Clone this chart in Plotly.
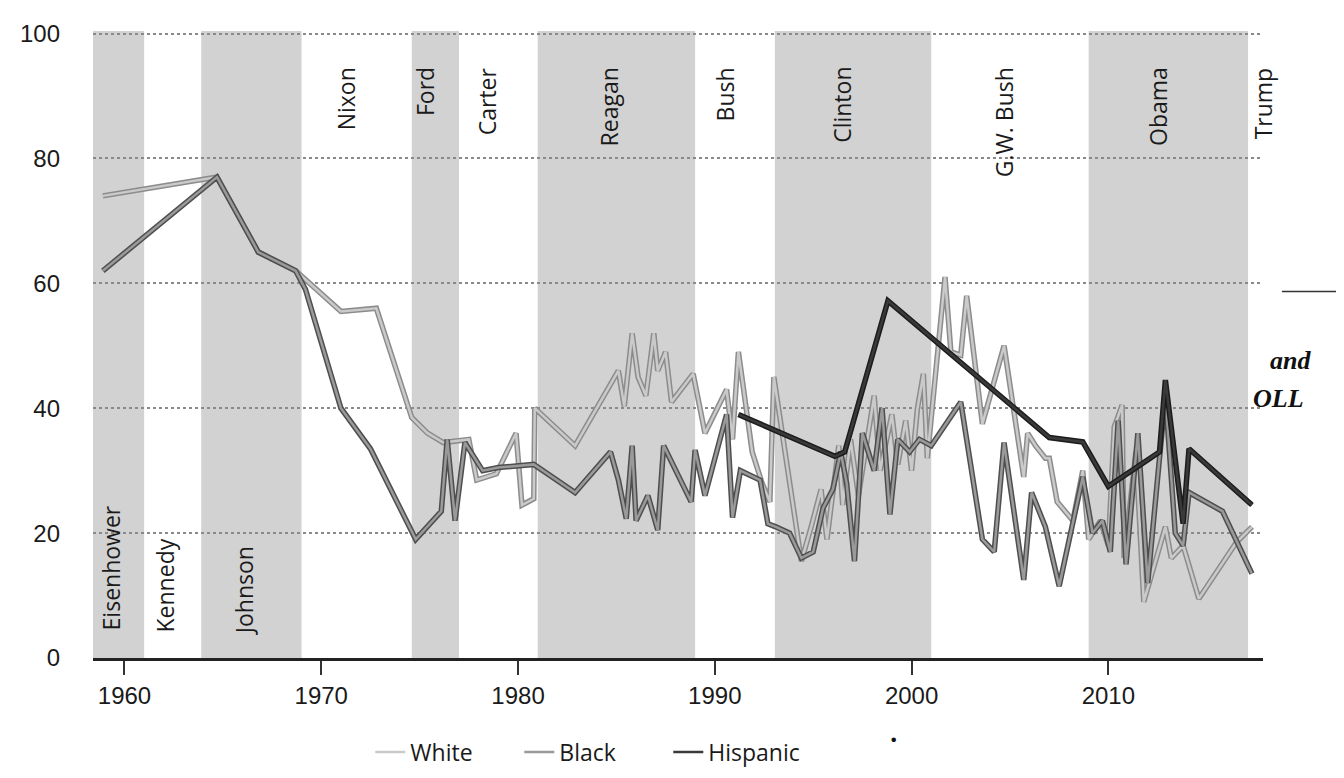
import plotly.graph_objects as go

# ---------------- data ----------------
white_years = [1958.9, 1964.7, 1966.8, 1968.7, 1971.0, 1972.8, 1974.6, 1975.4, 1976.2, 1977.5,
               1977.9, 1978.9, 1979.9, 1980.2, 1980.8, 1980.85, 1982.9, 1985.1, 1985.4, 1985.8,
               1986.1, 1986.5, 1986.9, 1987.1, 1987.5, 1987.8, 1988.9, 1989.5, 1990.6, 1990.9,
               1991.2, 1991.9, 1992.4, 1992.8, 1993.0, 1994.4, 1994.9, 1995.4, 1995.7, 1996.3,
               1996.5, 1996.9, 1997.3, 1998.1, 1998.4, 1999.0, 1999.3, 1999.7, 2000.0, 2000.3,
               2000.6, 2000.8, 2001.7, 2002.0, 2002.5, 2002.8, 2003.6, 2004.7, 2005.7, 2005.9,
               2006.3, 2006.8, 2007.0, 2007.4, 2008.2, 2008.7, 2009.0, 2009.6, 2010.0, 2010.3,
               2010.7, 2010.8, 2011.4, 2011.8, 2012.9, 2013.2, 2013.8, 2014.6, 2016.5, 2017.3]
white_vals = [74, 77, 65, 62, 55.5, 56, 38.5, 36, 34.5, 35,
              28.5, 29.5, 36, 24.5, 25.5, 40, 34, 46, 40.3, 52,
              45, 42, 52, 46, 49, 41, 45.5, 36, 43, 35,
              49, 33, 28, 25, 45, 15.5, 21, 27, 19, 34,
              24.5, 35, 26, 42, 30, 39, 31, 38, 30, 40,
              45.5, 32, 61, 49, 48.5, 58, 37.5, 50, 29, 36,
              34, 32, 32, 25, 22, 30, 19, 22, 18, 37,
              40.5, 16, 33, 9, 21, 16, 18, 9.5, 18.5, 21]

black_years = [1958.9, 1964.7, 1966.8, 1968.7, 1969.2, 1971.0, 1972.5, 1974.8, 1976.1, 1976.4,
               1976.8, 1977.3, 1978.2, 1979.0, 1980.8, 1982.9, 1984.7, 1985.1, 1985.5, 1985.8,
               1986.0, 1986.6, 1987.1, 1987.4, 1988.8, 1989.0, 1989.5, 1990.6, 1990.9, 1991.3,
               1992.3, 1992.7, 1993.1, 1993.8, 1994.4, 1995.0, 1995.5, 1996.0, 1996.4, 1996.7,
               1997.1, 1997.5, 1998.1, 1998.5, 1998.9, 1999.3, 1999.9, 2000.4, 2001.0, 2002.5,
               2003.6, 2004.2, 2004.7, 2005.7, 2006.1, 2006.8, 2007.5, 2008.7, 2009.2, 2009.7,
               2010.1, 2010.5, 2010.9, 2011.5, 2012.0, 2012.9, 2013.4, 2013.8, 2014.1, 2015.8,
               2017.3]
black_vals = [62, 77, 65, 62, 59, 40, 33.5, 19, 23.5, 35,
              22, 34.5, 30, 30.5, 31, 26.5, 33, 28.5, 22.3, 34,
              22, 26, 20.5, 34, 25, 33.3, 26, 39, 22.5, 30,
              28.5, 21.5, 21, 20, 16, 17, 24, 27, 33, 28,
              15.5, 36, 30, 40, 23, 35, 33, 35, 34, 41,
              19, 17, 34.5, 12.5, 26.5, 21, 11.5, 29, 20, 22,
              17, 38, 15, 36, 12, 42, 20, 18, 26.5, 23.5,
              13.5]

hisp_years = [1991.2, 1996.1, 1996.6, 1998.8, 2007.0, 2008.7, 2010.0, 2012.6, 2012.9, 2013.8, 2014.1, 2017.3]
hisp_vals = [39, 32.3, 33, 57.2, 35.3, 34.6, 27.5, 33, 44.5, 21.5, 33.5, 24.5]

# presidential terms (shaded = every other)
shaded_terms = [(1958.4, 1961.0), (1963.9, 1969.0), (1974.6, 1977.0),
                (1981.0, 1989.0), (1993.05, 2001.0), (2009.0, 2017.1)]

top_labels = ["Nixon", "Ford", "Carter", "Reagan", "Bush", "Clinton", "G.W. Bush", "Obama"]
top_label_x = [1971.23, 1975.28, 1978.42, 1984.6, 1990.52, 1996.49, 2004.69, 2012.53]
bottom_labels = ["Eisenhower", "Kennedy", "Johnson"]
bottom_label_x = [1959.29, 1962.07, 1966.07]
bottom_label_y = [4.1, 3.8, 3.4]

x_ticks = [1960, 1970, 1980, 1990, 2000, 2010]
y_ticks = [0, 20, 40, 60, 80, 100]

series = [
    ("White", white_years, white_vals, "#8c8c8c", "#cacaca"),
    ("Black", black_years, black_vals, "#4e4e4e", "#9a9a9a"),
    ("Hispanic", hisp_years, hisp_vals, "#1c1c1c", "#3a3a3a"),
]

# ---------------- figure ----------------
fig = go.Figure()

for name, xs, ys, edge, inner in series:
    fig.add_trace(go.Scatter(x=xs, y=ys, mode="lines", name=name, legendgroup=name,
                             showlegend=False, hoverinfo="skip",
                             line=dict(color=edge, width=5.5)))
    fig.add_trace(go.Scatter(x=xs, y=ys, mode="lines", name=name, legendgroup=name,
                             line=dict(color=inner, width=2.5)))

for x0, x1 in shaded_terms:
    fig.add_shape(type="rect", xref="x", yref="y", x0=x0, x1=x1, y0=0, y1=100.4,
                  fillcolor="#d2d2d2", line=dict(width=0), layer="below")

label_font = dict(family="Open Sans, DejaVu Sans, sans-serif", size=23, color="#1a1a1a")
for t, xv in zip(top_labels, top_label_x):
    fig.add_annotation(x=xv, y=94.9, xref="x", yref="y", text=t, textangle=-90,
                       showarrow=False, xanchor="center", yanchor="top", font=label_font)
fig.add_annotation(x=1.0, y=94.9, xref="paper", yref="y", text="Trump", textangle=-90,
                   showarrow=False, xanchor="center", yanchor="top", font=label_font)
for t, xv, yv in zip(bottom_labels, bottom_label_x, bottom_label_y):
    fig.add_annotation(x=xv, y=yv, xref="x", yref="y", text=t, textangle=-90,
                       showarrow=False, xanchor="center", yanchor="bottom", font=label_font)

# stray scanned text on the right margin
serif_font = dict(family="Liberation Serif, DejaVu Serif, serif", size=26, color="#111")
fig.add_annotation(x=1.0425, y=0.4738, xref="paper", yref="paper", text="<b><i>and</i></b>",
                   showarrow=False, font=serif_font)
fig.add_annotation(x=1.0365, y=0.4138, xref="paper", yref="paper", text="<b><i>OLL</i></b>",
                   showarrow=False, font=serif_font)
fig.add_shape(type="line", xref="paper", yref="paper", x0=1.0162, x1=1.077, y0=0.5846, y1=0.5846,
              line=dict(color="#333", width=1.5))
fig.add_annotation(x=0.689, y=-0.15, xref="paper", yref="paper", text="<b>.</b>",
                   showarrow=False, font=dict(family="Open Sans", size=26, color="#111"))

fig.update_layout(
    width=1344, height=778,
    margin=dict(l=80, r=89, t=15, b=113),
    paper_bgcolor="white", plot_bgcolor="white",
    showlegend=True,
    legend=dict(orientation="h", x=0.237, y=-0.15, xanchor="left", yanchor="middle",
                font=dict(family="Open Sans, DejaVu Sans, sans-serif", size=23, color="#1a1a1a"),
                itemwidth=30, entrywidth=104, entrywidthmode="pixels",
                bgcolor="rgba(0,0,0,0)"),
    xaxis=dict(range=[1958.4, 2017.86], tickvals=x_ticks, ticks="outside", ticklen=14,
               tickwidth=2, tickcolor="#333", showline=True, linewidth=3, linecolor="#222",
               showgrid=False, zeroline=False,
               tickfont=dict(family="Liberation Sans, Arial, sans-serif", size=24, color="#1a1a1a")),
    yaxis=dict(range=[0, 100.4], tickvals=y_ticks, ticks="", showline=False, zeroline=False,
               showgrid=True, gridcolor="#8a8a8a", gridwidth=1.5, griddash="dot",
               ticklabelstandoff=32,
               tickfont=dict(family="Liberation Sans, Arial, sans-serif", size=24, color="#1a1a1a")),
)

fig.write_html("out.html")
